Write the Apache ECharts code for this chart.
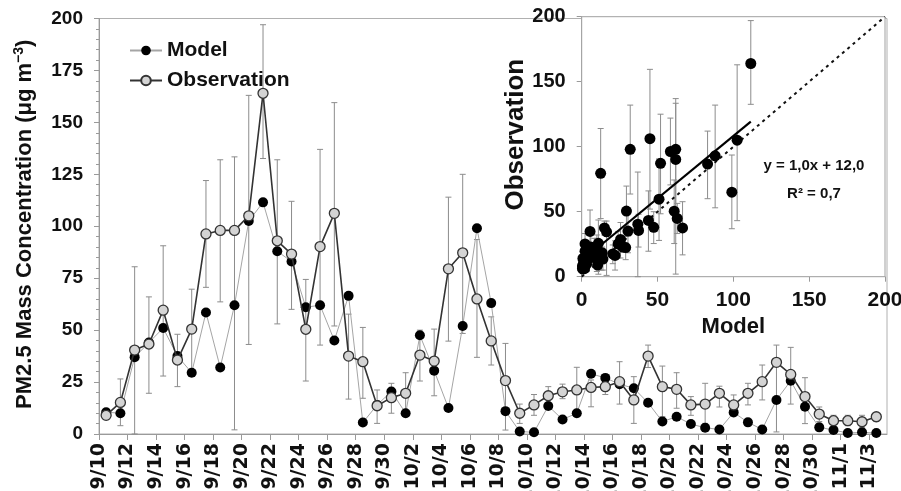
<!DOCTYPE html>
<html>
<head>
<meta charset="utf-8">
<script src="https://cdn.jsdelivr.net/npm/echarts@6/dist/echarts.min.js"></script>
<style>
  html, body { margin: 0; padding: 0; background: #fff; }
  #chart { width: 901px; height: 491px; }
</style>
</head>
<body>
<div id="chart"></div>
<script>
// tick labels, one per two days starting 9/10
const dateLabels = ['9/10', '9/12', '9/14', '9/16', '9/18', '9/20', '9/22', '9/24', '9/26', '9/28', '9/30',
  '10/2', '10/4', '10/6', '10/8', '10/10', '10/12', '10/14', '10/16', '10/18', '10/20', '10/22', '10/24',
  '10/26', '10/28', '10/30', '11/1', '11/3']

// daily values 9/10 .. 11/3 (55 days)
const model = [10.5, 10, 37, 44, 51, 37.5, 29.5, 58.5, 32, 62, 102.5, 111.5, 88, 83, 61, 62, 45, 66.5, 5.5, 14,
  20.5, 10, 47.5, 30.5, 12.5, 52, 99, 63, 11, 1.2, 0.8, 13.5, 7, 10, 29, 27, 24, 22, 15, 6,
  8.3, 4.8, 3, 2.2, 10.4, 5.6, 2.2, 16.4, 25.6, 13.1, 3.2, 1.9, 0.5, 0.8, 0.5]
const observation = [9, 15.2, 40.4, 43.3, 59.6, 35.6, 50.5, 96.3, 98, 98, 105, 164, 93, 86.6, 50.4, 90.2, 106.2, 37.5, 34.8, 13.6,
  17.5, 19.6, 38, 35.1, 79.5, 87.2, 65, 44.8, 25.7, 10, 14, 18.4, 20.3, 21.2, 22.4, 22.8, 25.2, 16.4, 37.5, 22.8,
  21.5, 14, 14.4, 19.6, 14, 19.6, 25.2, 34.5, 28.7, 18, 9.6, 6.4, 6.4, 5.9, 8.3]
const obsLow = [7, 4, 0, 19.6, 27.9, 22.8, 31, 70.6, 63.6, 2, 43.1, 132.6, 53, 60, 25.5, 42.8, 52, 16.8, 17.2, 5.1,
  10, 10, 25.5, 18.4, 44.7, 48.4, 36.9, 33.2, 1.9, 5.1, 9, 15, 17, 8.3, 13.1, 19, 14.4, 5.1, 32, 8.3,
  12.4, 9, 5.1, 13, 9.5, 14, 16.4, 1, 14.4, 5, 6, 3, 4, 3, 6]
const obsHigh = [12, 26.5, 80.5, 66, 90.6, 48, 69.7, 122, 132, 133.4, 163, 197, 132, 112, 74.4, 137, 159.5, 57.7, 51.3, 21.2,
  24.4, 29.5, 50, 50.5, 114, 125, 93.6, 56.4, 43.6, 14.4, 19, 22.8, 24, 32.1, 26, 26, 34.8, 27.6, 42.8, 32.7,
  29.5, 18, 24.4, 23, 18.8, 24.4, 33.2, 42.8, 41.7, 27.1, 13, 9, 9, 9, 10]

// regression line shown in the inset
const trendSlope = 0.96
const trendIntercept = 12.2
const trendRange = [12.7, 111.5]

const chart = echarts.init(document.getElementById('chart'))
const font = 'Liberation Sans, Arial, sans-serif'
const wideFont = 'DejaVu Sans, Verdana, sans-serif'
const axisGrey = '#9a9a9a'

function errorBar(params, api) {
  const x = api.value(0)
  const lo = api.coord([x, api.value(1)])
  const hi = api.coord([x, api.value(2)])
  const w = 3
  const style = { stroke: '#8c8c8c', lineWidth: 1 }
  return {
    type: 'group',
    children: [
      { type: 'line', shape: { x1: lo[0], y1: lo[1], x2: hi[0], y2: hi[1] }, style: style },
      { type: 'line', shape: { x1: hi[0] - w, y1: hi[1], x2: hi[0] + w, y2: hi[1] }, style: style },
      { type: 'line', shape: { x1: lo[0] - w, y1: lo[1], x2: lo[0] + w, y2: lo[1] }, style: style }
    ]
  }
}

const dayBars = observation.map((v, i) => [i + 0.5, obsLow[i], obsHigh[i]])
const pairBars = observation.map((v, i) => [model[i], obsLow[i], obsHigh[i]])

const option = {
  animation: false,
  backgroundColor: '#fff',
  textStyle: { fontFamily: font },
  grid: [
    { left: 99, top: 18.5, right: 14, bottom: 57, outerBoundsMode: 'none', show: true, borderColor: '#b0b0b0', borderWidth: 1 },
    { left: 581.7, top: 16.7, width: 303.3, height: 260, outerBoundsMode: 'none', show: true, backgroundColor: '#fff', borderColor: '#a0a0a0', borderWidth: 1, z: 5 }
  ],
  legend: {
    data: ['Model', 'Observation'],
    orient: 'vertical',
    left: 124,
    top: 35,
    itemWidth: 32,
    itemHeight: 12,
    itemGap: 9,
    textStyle: { fontSize: 21, fontWeight: 'bold', color: '#111', fontFamily: font }
  },
  xAxis: [
    {
      type: 'value', gridIndex: 0, min: 0, max: 55.25, interval: 2,
      splitLine: { show: false },
      axisLine: { lineStyle: { color: axisGrey } },
      axisTick: { length: 6, lineStyle: { color: axisGrey } },
      axisLabel: {
        rotate: 90, margin: 9, fontSize: 19, fontWeight: 'bold', color: '#111', fontFamily: wideFont,
        showMaxLabel: false, hideOverlap: false,
        formatter: function (v) {
          const k = Math.round(v)
          return (k === v && k % 2 === 0 && k / 2 < dateLabels.length) ? dateLabels[k / 2] : ''
        }
      }
    },
    {
      type: 'value', gridIndex: 1, min: 0, max: 200, interval: 50,
      splitLine: { show: false },
      axisLine: { lineStyle: { color: axisGrey } },
      axisTick: { length: 5, lineStyle: { color: axisGrey } },
      axisLabel: { margin: 13, fontSize: 21, fontWeight: 'bold', color: '#111', fontFamily: font },
      name: 'Model', nameLocation: 'middle', nameGap: 35,
      nameTextStyle: { fontSize: 22, fontWeight: 'bold', color: '#111', fontFamily: font }
    }
  ],
  yAxis: [
    {
      type: 'value', gridIndex: 0, min: 0, max: 200, interval: 25,
      splitLine: { show: false },
      axisLine: { show: true, lineStyle: { color: axisGrey } },
      axisTick: { show: true, length: 5, lineStyle: { color: axisGrey } },
      minorTick: { show: true, splitNumber: 5, length: 3, lineStyle: { color: axisGrey } },
      axisLabel: { margin: 16, fontSize: 19, fontWeight: 'bold', color: '#111', fontFamily: font },
      name: '{t|PM2.5 Mass Concentration (μg m}{s|−3}{t|)}',
      nameLocation: 'middle', nameGap: 61,
      nameTextStyle: {
        padding: [0, 0, 0, 4],
        rich: {
          t: { fontSize: 22, fontWeight: 'bold', color: '#111', fontFamily: font, lineHeight: 26 },
          s: { fontSize: 14, fontWeight: 'bold', color: '#111', fontFamily: font, lineHeight: 13, verticalAlign: 'top' }
        }
      }
    },
    {
      type: 'value', gridIndex: 1, min: 0, max: 200, interval: 50,
      splitLine: { show: false },
      axisLine: { show: true, lineStyle: { color: axisGrey } },
      axisTick: { show: true, length: 5, lineStyle: { color: axisGrey } },
      axisLabel: { margin: 16, fontSize: 20, fontWeight: 'bold', color: '#111', fontFamily: font },
      name: 'Observation', nameLocation: 'middle', nameGap: 44,
      nameTextStyle: { fontSize: 26, fontWeight: 'bold', color: '#111', fontFamily: font, padding: [0, 0, 0, 24] }
    }
  ],
  graphic: [
    { type: 'text', x: 814, y: 166, z: 100,
      style: { text: 'y = 1,0x + 12,0', fontSize: 15, fontWeight: 'bold', fontFamily: font, fill: '#111', align: 'center', verticalAlign: 'middle', textAlign: 'center', textVerticalAlign: 'middle' } },
    { type: 'text', x: 814, y: 194, z: 100,
      style: { text: 'R² = 0,7', fontSize: 15, fontWeight: 'bold', fontFamily: font, fill: '#111', align: 'center', verticalAlign: 'middle', textAlign: 'center', textVerticalAlign: 'middle' } }
  ],
  series: [
    {
      type: 'custom', xAxisIndex: 0, yAxisIndex: 0, renderItem: errorBar,
      encode: { x: 0, y: [1, 2] }, data: dayBars, z: 1, silent: true
    },
    {
      name: 'Model', type: 'line', xAxisIndex: 0, yAxisIndex: 0,
      data: model.map((v, i) => [i + 0.5, v]),
      symbol: 'circle', symbolSize: 10, showAllSymbol: true,
      lineStyle: { color: '#a5a5a5', width: 1 },
      itemStyle: { color: '#000', borderColor: '#000', borderWidth: 0 },
      z: 2
    },
    {
      name: 'Observation', type: 'line', xAxisIndex: 0, yAxisIndex: 0,
      data: observation.map((v, i) => [i + 0.5, v]),
      symbol: 'circle', symbolSize: 10, showAllSymbol: true,
      lineStyle: { color: '#333', width: 1.6 },
      itemStyle: { color: '#d4d4d4', borderColor: '#333', borderWidth: 1.3 },
      z: 3
    },
    {
      type: 'custom', xAxisIndex: 1, yAxisIndex: 1, renderItem: errorBar,
      encode: { x: 0, y: [1, 2] }, data: pairBars, z: 6, silent: true
    },
    {
      type: 'line', xAxisIndex: 1, yAxisIndex: 1,
      data: [[0, 0], [200, 200]], showSymbol: false, silent: true,
      lineStyle: { color: '#111', width: 2, type: [3, 4] }, z: 6
    },
    {
      type: 'scatter', xAxisIndex: 1, yAxisIndex: 1,
      data: model.map((v, i) => [v, observation[i]]),
      symbolSize: 11, itemStyle: { color: '#000', opacity: 1 }, z: 7
    },
    {
      type: 'line', xAxisIndex: 1, yAxisIndex: 1,
      data: trendRange.map(x => [x, trendSlope * x + trendIntercept]),
      showSymbol: false, silent: true,
      lineStyle: { color: '#000', width: 2.2 }, z: 8
    }
  ]
}

chart.setOption(option)
</script>
</body>
</html>
